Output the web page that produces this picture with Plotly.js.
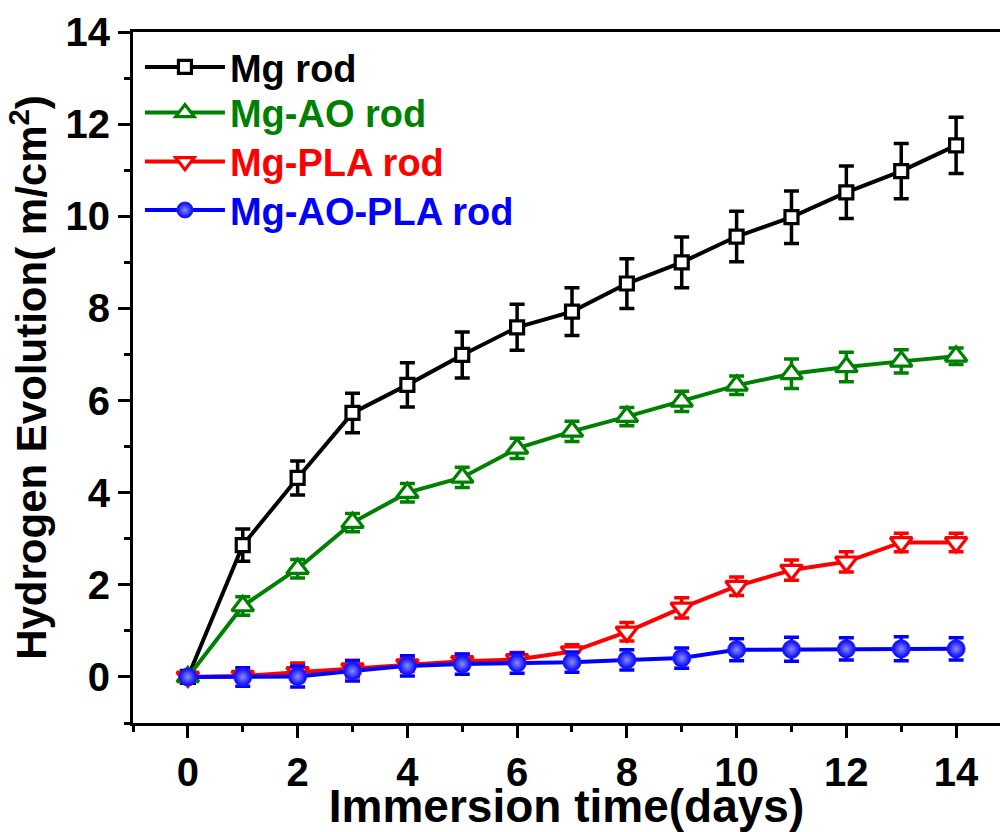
<!DOCTYPE html>
<html>
<head>
<meta charset="utf-8">
<script src="https://cdn.plot.ly/plotly-3.0.1.min.js"></script>
<style>html,body{margin:0;padding:0;background:#fff;}#chart{width:1000px;height:832px;}</style>
</head>
<body>
<div id="chart"></div>
<script>
// Immersion time (days)
const days = [0,1,2,3,4,5,6,7,8,9,10,11,12,13,14];

// Hydrogen evolution (ml/cm^2) and error (±)
const mgRod      = [0,2.86,4.32,5.73,6.34,6.99,7.59,7.93,8.54,9.00,9.56,9.98,10.52,10.98,11.54];
const mgRodErr   = [0,0.35,0.37,0.43,0.48,0.50,0.50,0.52,0.54,0.55,0.55,0.57,0.57,0.60,0.61];

const mgAO       = [0,1.54,2.35,3.35,4.00,4.33,4.96,5.33,5.65,5.98,6.33,6.58,6.73,6.85,6.96];
const mgAOErr    = [0,0.20,0.20,0.20,0.20,0.22,0.22,0.22,0.20,0.22,0.20,0.32,0.32,0.25,0.18];

const mgPLA      = [0,0.02,0.10,0.18,0.27,0.34,0.38,0.55,0.98,1.50,1.97,2.32,2.50,2.92,2.92];
const mgPLAErr   = [0,0.12,0.20,0.18,0.15,0.15,0.15,0.15,0.20,0.22,0.20,0.22,0.22,0.20,0.20];

const mgAOPLA    = [0,0.00,0.01,0.13,0.24,0.28,0.30,0.32,0.37,0.41,0.59,0.60,0.61,0.61,0.61];
const mgAOPLAErr = [0,0.20,0.23,0.22,0.22,0.22,0.22,0.22,0.22,0.22,0.24,0.26,0.24,0.26,0.24];

const names  = ['Mg rod','Mg-AO rod','Mg-PLA rod','Mg-AO-PLA rod'];
const colors = ['#000000','#008000','#ff0000','#0000ff'];

const FONT = 'Liberation Sans, Arial, Helvetica, sans-serif';

function dataTrace(y, err, color, marker) {
  return {
    x: days, y: y, type: 'scatter', mode: 'lines+markers', showlegend: false,
    line: {color: color, width: 4},
    marker: marker,
    error_y: {type: 'data', array: err, visible: true, color: color, thickness: 3.5, width: 7.5}
  };
}
function legendTrace(name, color, marker, legendId) {
  return {
    x: [null], y: [null], type: 'scatter', mode: 'lines+markers',
    name: '<span style="color:' + color + '">' + name + '</span>',
    legend: legendId,
    line: {color: color, width: 4},
    marker: marker
  };
}

const markers = [
  {symbol: 'square', size: 13, color: '#ffffff', line: {color: colors[0], width: 3.2}},
  {symbol: 'triangle-up', size: 19, color: '#ffffff', line: {color: colors[1], width: 3.2}},
  {symbol: 'triangle-down', size: 19, color: '#ffffff', line: {color: colors[2], width: 3.2}},
  {symbol: 'circle', size: 18, color: colors[3], gradient: {type: 'radial', color: '#8c8cff'}, line: {color: '#2020ff', width: 1}}
];
const series = [mgRod, mgAO, mgPLA, mgAOPLA];
const errs = [mgRodErr, mgAOErr, mgPLAErr, mgAOPLAErr];
const legendIds = ['legend', 'legend2', 'legend3', 'legend4'];
const legendRowsY = [0.949, 0.883, 0.812, 0.742];

const data = [];
for (let i = 0; i < 4; i++) data.push(dataTrace(series[i], errs[i], colors[i], markers[i]));
for (let i = 0; i < 4; i++) data.push(legendTrace(names[i], colors[i], markers[i], legendIds[i]));

const axisCommon = {
  showgrid: false, zeroline: false, showline: true, linecolor: '#000', linewidth: 3,
  ticks: 'outside', ticklen: 12, tickwidth: 3, tickcolor: '#000',
  tickfont: {family: FONT, size: 40, color: '#000', weight: 'bold'}
};

const layout = {
  width: 1000, height: 832,
  margin: {l: 133, r: 0, t: 32, b: 109},
  paper_bgcolor: '#fff', plot_bgcolor: '#fff',
  font: {family: FONT, color: '#000'},
  xaxis: Object.assign({}, axisCommon, {
    range: [-1, 14.8], tick0: 0, dtick: 2, mirror: true,
    minor: {dtick: 1, ticks: 'outside', ticklen: 6, tickwidth: 3, tickcolor: '#000'},
    title: {text: 'Immersion time(days)', font: {family: FONT, size: 46, weight: 'bold', color: '#000'}, standoff: 0}
  }),
  yaxis: Object.assign({}, axisCommon, {
    range: [-1, 14], tick0: 0, dtick: 2,
    minor: {dtick: 1, ticks: 'outside', ticklen: 6, tickwidth: 3, tickcolor: '#000'},
    title: {text: 'Hydrogen Evolution( m/cm<sup>2</sup>)', font: {family: FONT, size: 42, weight: 'bold', color: '#000'}, standoff: 6}
  })
};
for (let i = 0; i < 4; i++) {
  layout[legendIds[i]] = {
    x: 0.008, y: legendRowsY[i], xanchor: 'left', yanchor: 'middle',
    bgcolor: 'rgba(0,0,0,0)', borderwidth: 0,
    font: {family: FONT, size: 38, weight: 'bold'},
    itemwidth: 80
  };
}

Plotly.newPlot('chart', data, layout, {displayModeBar: false, staticPlot: true});
</script>
</body>
</html>
